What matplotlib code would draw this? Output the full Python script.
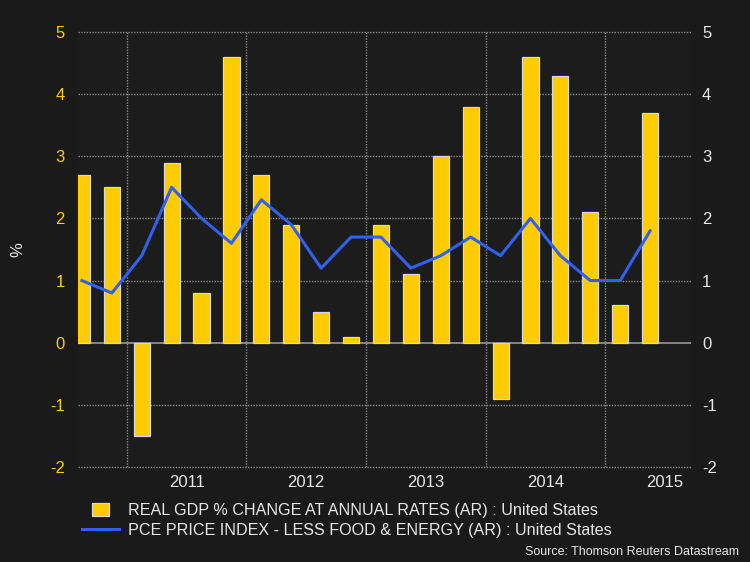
import matplotlib
matplotlib.use("Agg")
import matplotlib.pyplot as plt
import matplotlib.patches as mpatches
from matplotlib.legend_handler import HandlerPatch
import numpy as np

plt.rcParams['font.family'] = ['Liberation Sans', 'DejaVu Sans']

quarters = ["2010Q3", "2010Q4",
            "2011Q1", "2011Q2", "2011Q3", "2011Q4",
            "2012Q1", "2012Q2", "2012Q3", "2012Q4",
            "2013Q1", "2013Q2", "2013Q3", "2013Q4",
            "2014Q1", "2014Q2", "2014Q3", "2014Q4",
            "2015Q1", "2015Q2"]
gdp = [2.7, 2.5, -1.5, 2.9, 0.8, 4.6, 2.7, 1.9, 0.5, 0.1,
       1.9, 1.1, 3.0, 3.8, -0.9, 4.6, 4.3, 2.1, 0.6, 3.7]
pce = [1.0, 0.8, 1.4, 2.5, 2.0, 1.6, 2.3, 1.9, 1.2, 1.7,
       1.7, 1.2, 1.4, 1.7, 1.4, 2.0, 1.4, 1.0, 1.0, 1.8]
years = [2011, 2012, 2013, 2014, 2015]
yticks = [-2, -1, 0, 1, 2, 3, 4, 5]
series_labels = ['REAL GDP % CHANGE AT ANNUAL RATES (AR) : United States',
                 'PCE PRICE INDEX - LESS FOOD & ENERGY (AR) : United States']

x = np.array([int(q[:4]) + (int(q[-1]) - 0.5) / 4 for q in quarters])

BG = '#1a1a1a'
AX = '#1c1c1c'
YEL = '#FFCC00'
BLUE = '#3060F0'
TXT = '#e8e8e8'
GRID = '#8a8a8a'

fig = plt.figure(figsize=(7.5, 5.62), dpi=100, facecolor=BG)
ax = fig.add_axes([78/750, 1-467/562, (691-78)/750, (467-32)/562])
ax.set_facecolor(AX)

ax.set_xlim(2010.592, 2015.717)
ax.set_ylim(-2, 5)

for y in yticks:
    if y == 0:
        ax.axhline(0, color='#9a9a9a', lw=1.2, zorder=1)
    else:
        ax.axhline(y, color=GRID, lw=1, ls=(0, (1, 1)), zorder=1, clip_on=False)
for yr in years:
    ax.axvline(yr, color=GRID, lw=1, ls=(0, (1, 1)), zorder=1)

bars = ax.bar(x, gdp, width=0.135, color=YEL, edgecolor='#d8d8d8', linewidth=0.9, zorder=2)
line, = ax.plot(x, pce, color=BLUE, lw=2.2, zorder=3)

for s in ax.spines.values():
    s.set_visible(False)

ax.set_yticks(yticks)
ax.set_yticklabels([str(v) for v in yticks])
ax.tick_params(axis='y', length=0, pad=9.5, labelsize=12, labelcolor=YEL)
ax.set_xticks([yr + 0.5 for yr in years])
ax.set_xticklabels([str(yr) for yr in years])
ax.tick_params(axis='x', length=0, pad=6, labelsize=12, labelcolor=TXT)

ax2 = ax.twinx()
ax2.set_ylim(-2, 5)
ax2.set_yticks(yticks)
ax2.set_yticklabels([str(v) for v in yticks])
ax2.tick_params(axis='y', length=0, pad=8, labelsize=12, labelcolor=TXT)
for s in ax2.spines.values():
    s.set_visible(False)

fig.text(18/750, 1-250/562, '%', color=TXT, fontsize=12, rotation=90, ha='center', va='center')


def small_rect(legend, orig_handle, xdescent, ydescent, width, height, fontsize):
    h = 13 * 72 / 100
    w = 17 * 72 / 100
    return mpatches.Rectangle((xdescent + (width - w) / 2, ydescent + (height - h) / 2), w, h)


bar_handle = bars.patches[0]
leg = fig.legend(handles=[bar_handle, line], labels=series_labels, loc='upper left',
                 bbox_to_anchor=(82/750, 1-503/562),
                 frameon=False, fontsize=11.6, labelcolor=TXT, handlelength=2.3,
                 handletextpad=0.55, labelspacing=0.3, borderaxespad=0, borderpad=0,
                 handler_map={bar_handle: HandlerPatch(patch_func=small_rect)})

fig.text(739/750, 1-552/562, 'Source: Thomson Reuters Datastream', color=TXT, fontsize=9,
         ha='right', va='center')

fig.savefig('out.png', dpi=100, facecolor=BG)
